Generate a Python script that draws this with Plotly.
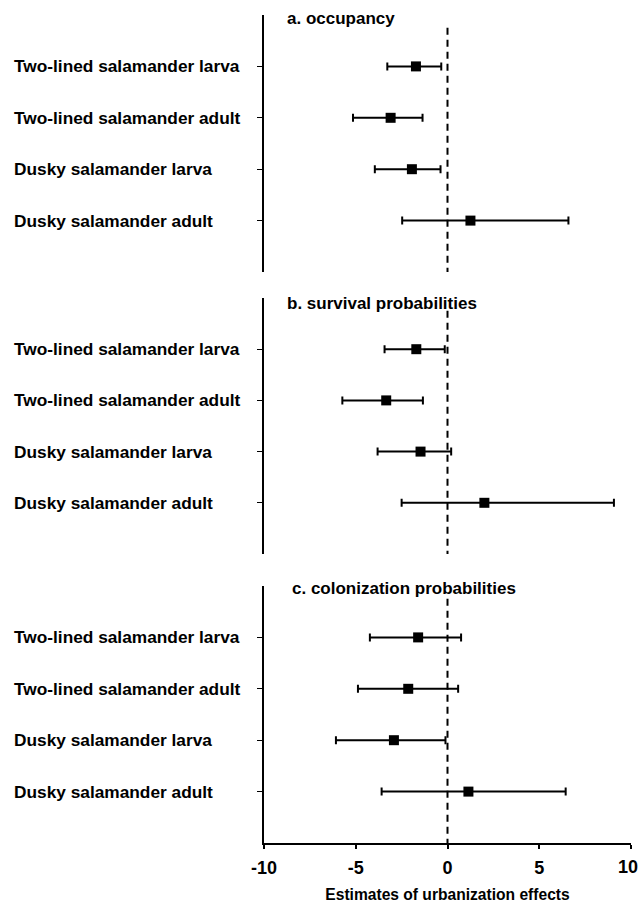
import plotly.graph_objects as go

categories = ["Two-lined salamander larva", "Two-lined salamander adult",
              "Dusky salamander larva", "Dusky salamander adult"]
panel_titles = ["a. occupancy", "b. survival probabilities", "c. colonization probabilities"]

occ_est = [-1.72, -3.10, -1.94, 1.25]
occ_low = [-3.28, -5.15, -3.96, -2.47]
occ_high = [-0.34, -1.36, -0.38, 6.59]

surv_est = [-1.70, -3.34, -1.47, 2.01]
surv_low = [-3.43, -5.73, -3.81, -2.50]
surv_high = [-0.15, -1.34, 0.20, 9.07]

col_est = [-1.60, -2.14, -2.92, 1.14]
col_low = [-4.23, -4.88, -6.08, -3.59]
col_high = [0.74, 0.58, -0.11, 6.44]

x_ticks = [-10, -5, 0, 5, 10]
x_tick_labels = ["-10", "-5", "0", "5", "10"]
x_title = "Estimates of urbanization effects"

panels = [(occ_est, occ_low, occ_high), (surv_est, surv_low, surv_high), (col_est, col_low, col_high)]

H = 903
W = 639
top_m = 15
bot_m = 60
plot_h = H - top_m - bot_m
# pixel extents of panels
pix = [(15, 272), (298, 554), (586, 843)]
domains = [[(843 - b) / plot_h, (843 - t) / plot_h] for (t, b) in pix]
domains[0][1] = 1.0
domains[2][0] = 0.0

FONT = "Liberation Sans, Arial, Helvetica, sans-serif"
fig = go.Figure()
ypos = [1, 2, 3, 4]

for i, (est, low, high) in enumerate(panels):
    xa = "x" if i == 0 else f"x{i+1}"
    ya = "y" if i == 0 else f"y{i+1}"
    # dashed zero line
    fig.add_trace(go.Scatter(x=[0, 0], y=[0.25, 5], mode="lines",
                             line=dict(color="black", width=2, dash="7px,5px"),
                             xaxis=xa, yaxis=ya, showlegend=False, hoverinfo="skip"))
    fig.add_trace(go.Scatter(
        x=est, y=ypos, mode="markers",
        marker=dict(symbol="square", size=10, color="black"),
        error_x=dict(type="data", symmetric=False,
                     array=[h - e for h, e in zip(high, est)],
                     arrayminus=[e - l for e, l in zip(est, low)],
                     color="black", thickness=2, width=4),
        xaxis=xa, yaxis=ya, showlegend=False))
    # title
    fig.add_annotation(text="<b>" + panel_titles[i] + "</b>", xref="paper", yref="paper",
                       x=(285 - 263.5) / 367.5 if i < 2 else (290 - 263.5) / 367.5,
                       y=domains[i][1], yshift=-3 if i == 0 else (-6 if i == 1 else -2),
                       xanchor="left", yanchor="middle", showarrow=False,
                       font=dict(family=FONT, size=17, color="black"))
    for j, c in enumerate(categories):
        fig.add_annotation(text="<b>" + c + "</b>", xref="paper", yref=ya,
                           x=(11 - 263.5) / 367.5, y=ypos[j], xanchor="left", yanchor="middle",
                           showarrow=False, font=dict(family=FONT, size=17.3, color="black"))

# last tick label (at the very right edge) drawn as an annotation so it stays inside the page
fig.add_annotation(text="<b>" + x_tick_labels[-1] + "</b>", xref="x3", yref="paper",
                   x=x_ticks[-1], y=0, xanchor="center", yanchor="middle",
                   xshift=-3, yshift=-24, showarrow=False,
                   font=dict(family=FONT, size=18, color="black"))

layout = dict(
    width=W, height=H,
    margin=dict(l=264, r=8, t=top_m, b=bot_m, autoexpand=False),
    paper_bgcolor="white", plot_bgcolor="white",
    showlegend=False,
    font=dict(family=FONT, color="black"),
)
for i in range(3):
    xk = "xaxis" if i == 0 else f"xaxis{i+1}"
    yk = "yaxis" if i == 0 else f"yaxis{i+1}"
    last = (i == 2)
    layout[xk] = dict(range=[-10, 10], anchor="y" if i == 0 else f"y{i+1}",
                      showgrid=False, zeroline=False, automargin=False,
                      showline=last, linecolor="black", linewidth=2,
                      ticks="outside" if last else "", ticklen=4, tickwidth=1.5, tickcolor="black",
                      showticklabels=last, tickvals=x_ticks,
                      ticktext=[f"<b>{v}</b>" for v in x_tick_labels[:-1]] + [""],
                      ticklabeloverflow="allow", ticklabelstandoff=3,
                      tickfont=dict(family=FONT, size=18, color="black"),
                      title=dict(text="<b>" + x_title + "</b>" if last else "",
                                 font=dict(family=FONT, size=15.6, color="black"), standoff=15))
    layout[yk] = dict(domain=domains[i], range=[5, 0], anchor="x" if i == 0 else f"x{i+1}",
                      showgrid=False, zeroline=False, showline=True, linecolor="black", linewidth=2,
                      automargin=False,
                      ticks="outside", ticklen=5, tickwidth=1, tickcolor="black",
                      tickvals=ypos, showticklabels=False)
fig.update_layout(**layout)
fig.write_html("out.html")
